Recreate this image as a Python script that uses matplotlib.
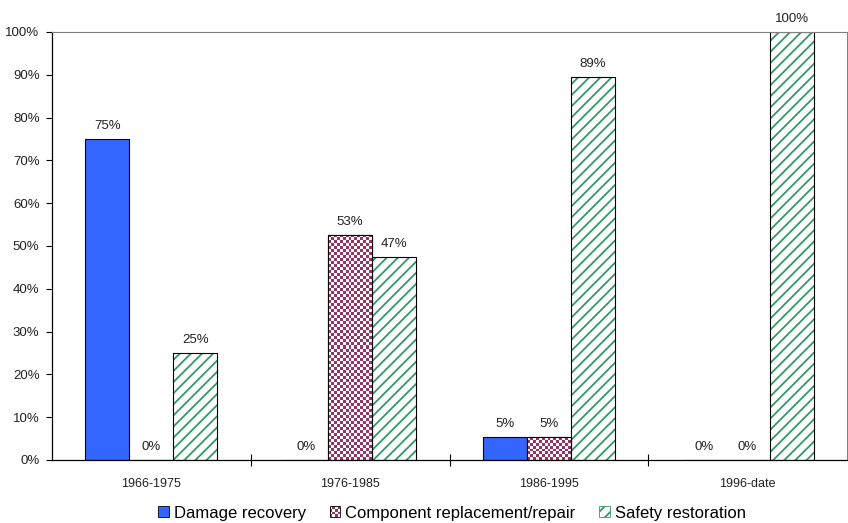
import numpy as np
import matplotlib
matplotlib.use("Agg")
import matplotlib.pyplot as plt
from matplotlib.patches import Patch, Rectangle
from matplotlib.legend_handler import HandlerBase

# 데이터
periods = ["1966-1975", "1976-1985", "1986-1995", "1996-date"]
damage = [75, 0, 5.3, 0]
component = [0, 52.6, 5.3, 0]
safety = [25, 47.4, 89.5, 100]
labels_damage = ["75%", "0%", "5%", "0%"]
labels_component = ["0%", "53%", "5%", "0%"]
labels_safety = ["25%", "47%", "89%", "100%"]

plt.rcParams["font.family"] = ["Liberation Sans", "DejaVu Sans"]
plt.rcParams["hatch.linewidth"] = 1.3

blue = "#3366FF"
purple = "#993366"
green = "#339966"
txt = "#222222"


# 범례용 체크무늬 핸들
class CheckerHandler(HandlerBase):
    def create_artists(self, legend, orig_handle, xdescent, ydescent, width, height,
                       fontsize, trans):
        n = 4
        arts = [Rectangle((-xdescent, -ydescent), width, height, facecolor="white",
                          edgecolor="none", transform=trans)]
        cw, ch = width / n, height / n
        for i in range(n):
            for j in range(n):
                if (i + j) % 2 == 0:
                    arts.append(Rectangle((-xdescent + i * cw, -ydescent + j * ch), cw, ch,
                                          facecolor=purple, edgecolor="none",
                                          transform=trans))
        arts.append(Rectangle((-xdescent, -ydescent), width, height, fill=False,
                              edgecolor="black", linewidth=0.6, transform=trans))
        return arts


fig = plt.figure(figsize=(8.48, 5.23), dpi=100)
ax = fig.add_axes([52 / 848, 63 / 523, 795 / 848, 428 / 523])

x = np.arange(len(periods))
w = 0.221

# 파란 막대
ax.bar(x - w, damage, width=w, color=blue, edgecolor="black", linewidth=0.8, zorder=2)

# 체크무늬 막대 (이미지를 막대 모양으로 잘라서 표시)
comp_bars = ax.bar(x, component, width=w, color="white", edgecolor="black",
                   linewidth=0.8, zorder=2)
px_per_y = 428 / 100
cmap = matplotlib.colors.ListedColormap([purple, "white"])
for rect, val in zip(comp_bars, component):
    if val <= 0:
        continue
    cols = 15
    rows = max(1, int(round(val * px_per_y / 3)))
    checker = (np.add.outer(np.arange(rows), np.arange(cols)) % 2).astype(float)
    x0 = rect.get_x()
    img = ax.imshow(checker, cmap=cmap, interpolation="nearest", aspect="auto",
                    extent=(x0, x0 + rect.get_width(), 0, val), origin="lower",
                    zorder=2.1)
    img.set_clip_path(rect)
    ax.add_patch(plt.Rectangle((x0, 0), rect.get_width(), val, fill=False,
                               edgecolor="black", linewidth=0.8, zorder=2.2))

# 빗금 막대
ax.bar(x + w, safety, width=w, color="white", edgecolor=green, hatch="///",
       linewidth=0, zorder=2)
ax.bar(x + w, safety, width=w, fill=False, edgecolor="black", linewidth=0.8, zorder=2.3)

# 값 라벨
for series, labs, off in [(damage, labels_damage, -w), (component, labels_component, 0),
                          (safety, labels_safety, w)]:
    for xi, v, lab in zip(x, series, labs):
        ax.text(xi + off, v + 1.6, lab, ha="center", va="bottom", fontsize=9.5,
                color=txt)

ax.set_xlim(-0.5, 3.5)
ax.set_ylim(0, 100)
ax.set_yticks(range(0, 101, 10))
ax.set_yticklabels([f"{v}%" for v in range(0, 101, 10)], fontsize=9.5, color=txt)
ax.set_xticks(x)
ax.set_xticklabels(periods, fontsize=9, color=txt)
ax.tick_params(axis="x", length=0, pad=13)
ax.set_xticks([0.5, 1.5, 2.5], minor=True)
ax.tick_params(axis="x", which="minor", direction="inout", length=8, width=0.8)
ax.tick_params(axis="y", direction="out", length=4, width=0.8, pad=5)

for s in ["top", "right"]:
    ax.spines[s].set_color("#808080")
    ax.spines[s].set_linewidth(0.8)
for s in ["left", "bottom"]:
    ax.spines[s].set_color("black")
    ax.spines[s].set_linewidth(0.9)

checker_handle = Patch(facecolor=purple)
handles = [
    Patch(facecolor=blue, edgecolor="black", linewidth=0.6),
    checker_handle,
    Patch(facecolor="white", edgecolor=green, hatch="///", linewidth=0.6),
]
fig.legend(handles, ["Damage recovery", "Component replacement/repair",
                     "Safety restoration"],
           loc="center", bbox_to_anchor=(0.533, 0.019), ncol=3, frameon=False,
           fontsize=12, handlelength=0.65, handleheight=0.65,
           handletextpad=0.3, columnspacing=1.4, borderpad=0.1,
           handler_map={checker_handle: CheckerHandler()})

fig.savefig("out.png", dpi=100)
